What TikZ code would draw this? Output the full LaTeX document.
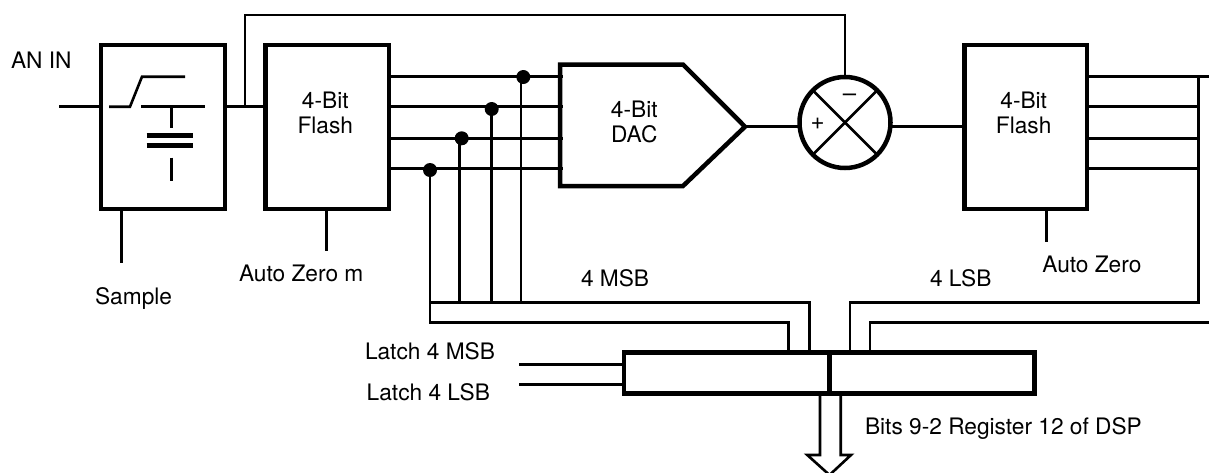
\documentclass[tikz,border=0pt]{standalone}
\usepackage{fontspec}
\setmainfont{TeX Gyre Heros}
\tikzset{
  wire/.style={line width=2.6pt,draw=black},
  heavy/.style={line width=4.5pt,draw=black,rectangle,inner sep=0pt,outer sep=0pt},
  dotnode/.style={circle,fill=black,inner sep=0pt,outer sep=0pt,minimum size=14pt},
  lab/.style={anchor=base west,inner sep=0pt,outer sep=0pt,font=\fontsize{22.7}{25.2}\selectfont},
  ctr/.style={anchor=base,align=center,inner sep=0pt,outer sep=0pt,font=\fontsize{22.7}{25.2}\selectfont},
}
\begin{document}
\begin{tikzpicture}[x=1pt,y=-1pt]
\useasboundingbox (0,0) rectangle (1209,472);
\clip (0,0) rectangle (1209,472);
% bus levels
\coordinate (b1) at (0,76.7);
\coordinate (b2) at (0,106.7);
\coordinate (b3) at (0,138.3);
\coordinate (b4) at (0,168.3);
\coordinate (w) at (0,126.7);
\coordinate (upper) at (0,302.7);
\coordinate (lower) at (0,322.7);
% blocks
\node[heavy,minimum width=124pt,minimum height=164pt] (sample) at (163,127) {};
\node[heavy,minimum width=123.5pt,minimum height=164pt] (flasha) at (327.25,127) {};
\node[heavy,minimum width=122.5pt,minimum height=164pt] (flashb) at (1025.75,127) {};
\node[heavy,minimum width=410.5pt,minimum height=41.2pt] (reg) at (829.25,373.1) {};
\node[circle,draw=black,line width=4.5pt,inner sep=0pt,outer sep=0pt,minimum size=91pt] (mix) at (845,122.5) {};
% DAC
\coordinate (dacA) at (560,64.5);
\coordinate (dacB) at (683,64.5);
\coordinate (dacT) at (745,126.7);
\coordinate (dacC) at (683,186);
\coordinate (dacD) at (560,186);
\draw[line width=4.5pt] (dacA) -- (dacB) -- (dacT) -- (dacC) -- (dacD) -- cycle;
% switch and capacitor
\coordinate (s1) at (109,106.7);
\coordinate (s2) at (130,106.7);
\coordinate (s3) at (142,76.7);
\coordinate (s4) at (185,76.7);
\coordinate (s5) at (141,106.7);
\coordinate (s6) at (205,106.7);
\coordinate (c0) at (171.7,106.7);
\coordinate (c1) at (171.7,128);
\coordinate (p1a) at (146.7,135.7);
\coordinate (p1b) at (192.7,135.7);
\coordinate (p2a) at (146.7,145.3);
\coordinate (p2b) at (192.7,145.3);
\coordinate (c2) at (171.7,157.7);
\coordinate (c3) at (171.7,180.7);
\draw[wire] (s1) -- (s2) -- (s3) -- (s4);
\draw[wire] (s5) -- (s6);
\draw[wire] (c0) -- (c1);
\draw[line width=4.5pt] (p1a) -- (p1b);
\draw[line width=4.5pt] (p2a) -- (p2b);
\draw[wire] (c2) -- (c3);
% input and main path
\coordinate (inp) at (59,106.7);
\draw[wire] (inp) -- (sample.west |- b2);
\draw[wire] (sample.east |- b2) -- (flasha.west |- b2);
\coordinate (fb) at (245,106.7);
\coordinate (fbt) at (245,15);
\draw[wire] (fb) -- (fbt) -| (mix.north);
\draw[wire] (dacT) -- (mix.west |- w);
\draw[wire] (mix.east |- w) -- (flashb.west |- w);
\draw[wire] (mix.45) -- (mix.225);
\draw[wire] (mix.135) -- (mix.-45);
% bus flash a -> DAC
\coordinate (dx) at (563,0);
\foreach \b in {b1,b2,b3,b4} \draw[wire] (flasha.east |- \b) -- (dx |- \b);
% taps
\node[dotnode] (d1) at (523.3,77) {};
\node[dotnode] (d2) at (491.7,109) {};
\node[dotnode] (d3) at (461.7,138.3) {};
\node[dotnode] (d4) at (430,170) {};
\coordinate (v1) at (521,0);
\coordinate (v2) at (491.7,0);
\coordinate (v3) at (459.3,0);
\draw[wire] (v1 |- d1) -- (v1 |- upper);
\draw[wire] (v2 |- d2) -- (v2 |- upper);
\draw[wire] (v3 |- d3) -- (v3 |- upper);
\coordinate (m1) at (809.3,0);
\coordinate (m2) at (788.3,0);
\coordinate (l1) at (850,0);
\coordinate (l2) at (870,0);
\coordinate (rv) at (1198.3,0);
\coordinate (edge) at (1209,0);
\draw[wire] (d4) -- (d4 |- lower) -- (m2 |- lower) -- (m2 |- reg.north);
\draw[wire] (d4 |- upper) -- (m1 |- upper) -- (m1 |- reg.north);
\draw[wire] (l1 |- reg.north) -- (l1 |- upper) -- (rv |- upper) -- (rv |- b1);
\draw[wire] (l2 |- reg.north) -- (l2 |- lower) -- (edge |- lower);
% bus flash b
\draw[wire] (flashb.east |- b1) -- (edge |- b1);
\foreach \b in {b2,b3,b4} \draw[wire] (flashb.east |- \b) -- (rv |- \b);
% control tails
\coordinate (t1) at (121.7,262.7);
\coordinate (t2) at (326.7,251);
\coordinate (t3) at (1046.7,242.3);
\draw[wire] (t1 |- sample.south) -- (t1);
\draw[wire] (t2 |- flasha.south) -- (t2);
\draw[wire] (t3 |- flashb.south) -- (t3);
% register
\coordinate (rd) at (829.3,0);
\draw[line width=4.5pt] (rd |- reg.north) -- (rd |- reg.south);
\coordinate (la) at (519.3,364.3);
\coordinate (lb) at (519.3,384.3);
\draw[wire] (la) -- (reg.west |- la);
\draw[wire] (lb) -- (reg.west |- lb);
% output arrow
\coordinate (a1) at (820,0);
\coordinate (a2) at (840.7,0);
\coordinate (ah) at (0,455);
\coordinate (a3) at (807.3,455);
\coordinate (a4) at (829.5,475);
\coordinate (a5) at (851,455);
\draw[wire] (a1 |- reg.south) -- (a1 |- ah) -- (a3) -- (a4) -- (a5) -- (a2 |- ah) -- (a2 |- reg.south);
% labels
\node[lab] (tan) at (11,68.3) {AN IN};
\node[lab] (tsample) at (95,304.5) {Sample};
\node[lab] (tazm) at (239,281.7) {Auto Zero m};
\node[lab] (taz) at (1042.3,272.7) {Auto Zero};
\node[lab] (tmsb) at (581,286.7) {4 MSB};
\node[lab] (tlsb) at (930,286.7) {4 LSB};
\node[lab] (tlm) at (365,359.3) {Latch 4 MSB};
\node[lab] (tll) at (366.7,400) {Latch 4 LSB};
\node[lab] (tbits) at (865,434.3) {Bits 9-2 Register 12 of DSP};
\node[ctr] (tfa) at (325.3,133.3) {4-Bit\\Flash};
\node[ctr] (tfb) at (1023.7,133.3) {4-Bit\\Flash};
\node[ctr] (tdac) at (634.3,142.7) {4-Bit\\DAC};
\node[anchor=base,inner sep=0pt,font=\fontsize{24}{26}\selectfont] (tplus) at (817.5,129.5) {+};
\node[anchor=base,inner sep=0pt,font=\fontsize{24}{26}\selectfont] (tminus) at (849.5,101) {\char"2013};
\end{tikzpicture}
\end{document}
